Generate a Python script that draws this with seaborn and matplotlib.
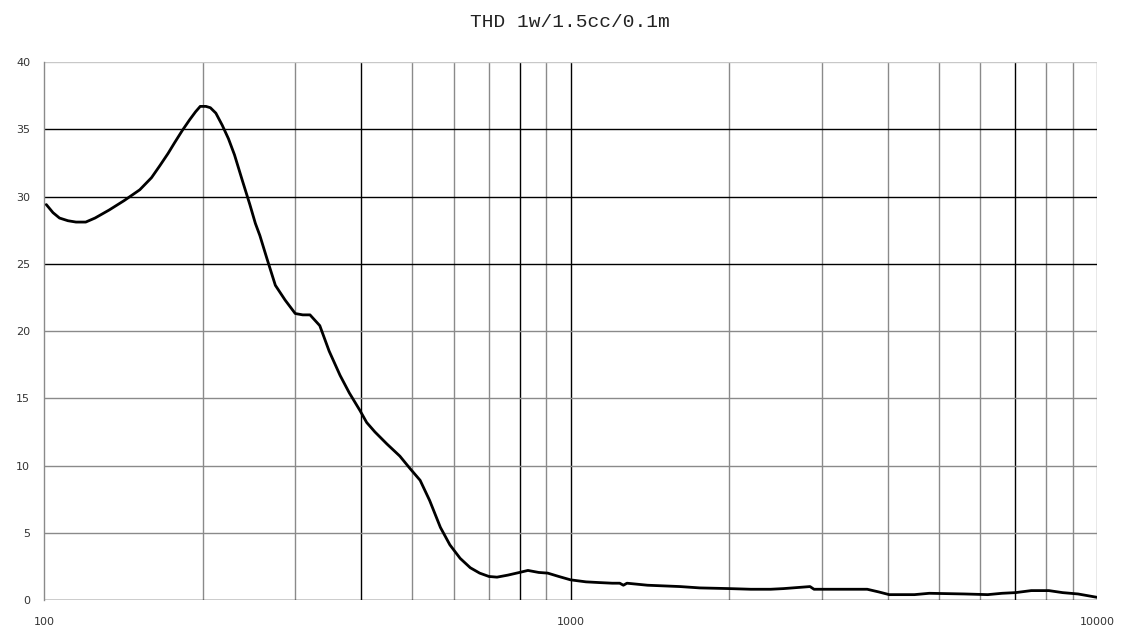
import matplotlib
matplotlib.use("Agg")
import matplotlib.pyplot as plt
import matplotlib.ticker as mticker
import pandas as pd
import seaborn as sns

# THD curve
freq = [101, 104, 107, 111, 115, 120, 125, 133, 142, 152, 160, 166, 172, 177, 183,
        189, 194, 198, 203, 207, 212, 218, 224, 230, 238, 246, 252, 257, 265, 275,
        287, 300, 310, 320, 334, 348, 365, 380, 398, 410, 425, 448, 474, 495, 518,
        540, 566, 590, 617, 645, 672, 700, 725, 760, 800, 830, 870, 905, 950, 1000,
        1070, 1130, 1200, 1240, 1260, 1280, 1400, 1615, 1760, 2000, 2200, 2400, 2540,
        2850, 2900, 3300, 3660, 3850, 4030, 4500, 4800, 5600, 6200, 6600, 7000, 7500,
        8100, 8600, 9200, 10000]
thd = [29.4, 28.8, 28.4, 28.2, 28.1, 28.1, 28.4, 29.0, 29.7, 30.5, 31.4, 32.3, 33.2,
       34.0, 34.9, 35.7, 36.3, 36.7, 36.7, 36.6, 36.2, 35.3, 34.3, 33.1, 31.2, 29.4,
       28.0, 27.1, 25.4, 23.4, 22.3, 21.3, 21.2, 21.2, 20.4, 18.5, 16.7, 15.4, 14.1,
       13.2, 12.5, 11.6, 10.7, 9.8, 8.9, 7.4, 5.4, 4.1, 3.1, 2.4, 2.0, 1.75, 1.7, 1.85,
       2.05, 2.2, 2.05, 2.0, 1.75, 1.5, 1.35, 1.3, 1.25, 1.25, 1.1, 1.25, 1.1, 1.0, 0.9,
       0.85, 0.8, 0.8, 0.85, 1.0, 0.8, 0.8, 0.8, 0.6, 0.4, 0.4, 0.5, 0.45, 0.4, 0.5,
       0.55, 0.7, 0.7, 0.55, 0.45, 0.2]

y_ticks = [0, 5, 10, 15, 20, 25, 30, 35, 40]
x_ticks = [100, 1000, 10000]
x_grid = [200, 300, 400, 500, 600, 700, 800, 900, 1000,
          2000, 3000, 4000, 5000, 6000, 7000, 8000, 9000, 10000]
dark_x = [400, 800, 1000, 7000]
dark_y = [0, 25, 30, 35]

df = pd.DataFrame({"freq": freq, "thd": thd})

sns.set_theme(style="white")
fig = plt.figure(figsize=(11.29, 6.34), dpi=100)
ax = fig.add_axes([0.039, 0.0536, 0.9327, 0.8486])

# grid first so the curve sits on top
for xv in x_grid:
    ax.axvline(xv, color="black" if xv in dark_x else "#8a8a8a", lw=1.0, zorder=1)
for yv in y_ticks:
    if yv in dark_y:
        ax.axhline(yv, color="black", lw=1.0, zorder=1)
    elif yv == 40:
        ax.axhline(yv, color="#c8c8c8", lw=1.0, zorder=1)
    else:
        ax.axhline(yv, color="#8a8a8a", lw=1.0, zorder=1)

sns.lineplot(data=df, x="freq", y="thd", color="black", lw=2.0, ax=ax, zorder=3)

ax.set_xscale("log")
ax.set_xlim(100, 10000)
ax.set_ylim(0, 40)
ax.xaxis.set_major_locator(mticker.FixedLocator(x_ticks))
ax.xaxis.set_minor_locator(mticker.NullLocator())
ax.xaxis.set_major_formatter(mticker.FuncFormatter(lambda v, p: f"{int(v)}"))
ax.set_yticks(y_ticks)
ax.tick_params(axis="both", length=0, labelsize=8, colors="#333333")
ax.tick_params(axis="x", pad=12)
ax.tick_params(axis="y", pad=10)
ax.set_xlabel("")
ax.set_ylabel("")
for s in ["top", "right"]:
    ax.spines[s].set_visible(False)
ax.spines["left"].set_color("#8a8a8a")
ax.spines["left"].set_linewidth(1.0)
ax.spines["bottom"].set_visible(False)

fig.text(0.505, 0.965, "THD 1w/1.5cc/0.1m", ha="center", va="center",
         fontsize=14, family=["Liberation Mono", "DejaVu Sans"], color="#222222")

fig.savefig("out.png", dpi=100, facecolor="white")
